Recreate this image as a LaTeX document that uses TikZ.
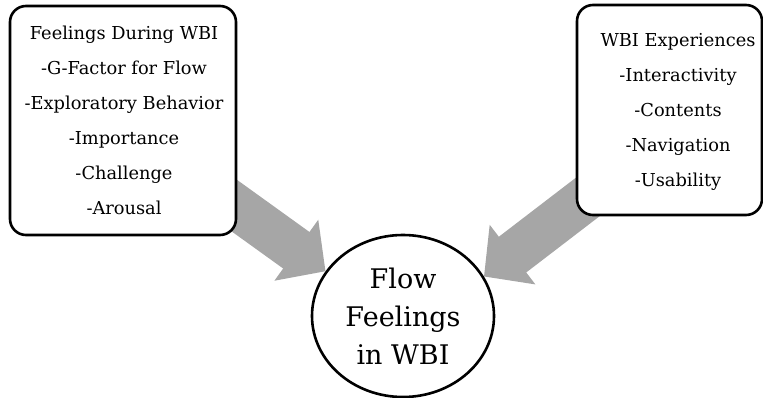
\documentclass[tikz,border=0pt]{standalone}
\usepackage{fontspec}
\setmainfont{DejaVu Serif}
\usetikzlibrary{arrows.meta,backgrounds,shapes.geometric}
\definecolor{arrowgray}{HTML}{A6A6A6}
\begin{document}
\begin{tikzpicture}[x=1pt,y=-1pt,
  boxstyle/.style={draw, line width=2.6pt, rounded corners=16pt, fill=white, inner sep=0pt},
  boxtext/.style={align=center, inner sep=0pt, font=\fontsize{17.8pt}{35pt}\selectfont},
  flowstyle/.style={ellipse, draw, line width=2.6pt, fill=white, minimum width=182pt, minimum height=162pt, inner sep=0pt, align=center, font=\fontsize{27pt}{38pt}\selectfont},
  fatarrow/.style={color=arrowgray, line width=45pt, -{Triangle[length=36pt,width=73pt]}}]
\useasboundingbox (0,0) rectangle (763,398);
\node[boxstyle, minimum width=226pt, minimum height=229pt] (lbox) at (123,120.5) {};
\node[boxtext] (ltext) at (124,120) {Feelings During WBI\\-G-Factor for Flow\\-Exploratory Behavior\\-Importance\\-Challenge\\-Arousal};
\node[boxstyle, minimum width=185pt, minimum height=210pt] (rbox) at (669.5,110) {};
\node[boxtext] (rtext) at (678,112.4) {WBI Experiences\\-Interactivity\\-Contents\\-Navigation\\-Usability};
\node[flowstyle] (flow) at (403,316) {Flow\\Feelings\\in WBI};
\coordinate (ltail) at (189,173);
\coordinate (rtail) at (619,173);
\begin{pgfonlayer}{background}
\draw[fatarrow] (ltail) -- (flow.150);
\draw[fatarrow] (rtail) -- (flow.26);
\end{pgfonlayer}
\end{tikzpicture}
\end{document}
